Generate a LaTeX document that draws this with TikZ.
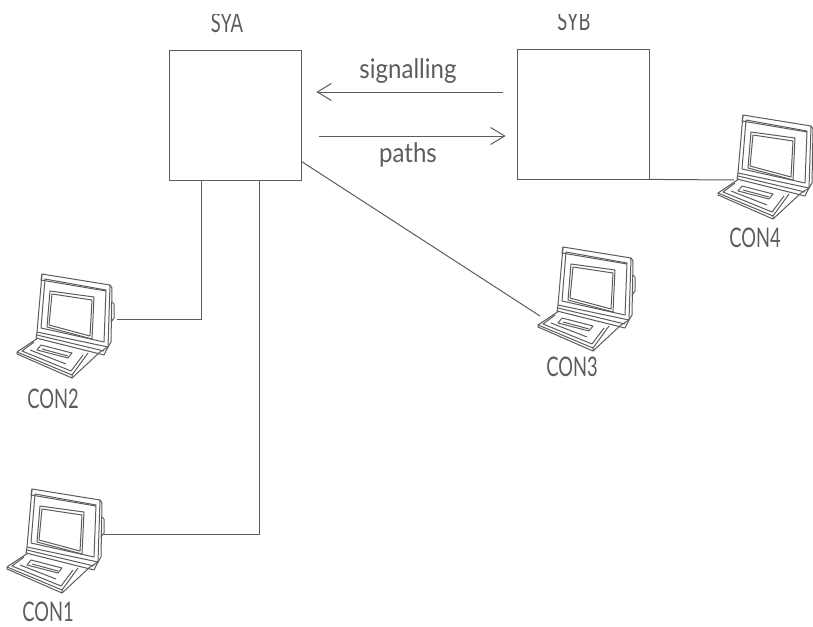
\documentclass[tikz,border=0pt]{standalone}
\usepackage{fontspec}
\setmainfont{Lato}
\usetikzlibrary{calc,arrows.meta}
\definecolor{ink}{gray}{0.36}
\tikzset{
  x=1pt,y=-1pt,
  sysbox/.style={draw=ink,line width=0.8pt,minimum width=132pt,minimum height=130pt,inner sep=0pt},
  wire/.style={draw=ink,line width=1pt},
  flow/.style={wire,-{Straight Barb[length=14pt,width=17pt,line width=1pt]}},
  lab/.style={text=ink,inner sep=0pt,font=\fontsize{27}{27}\selectfont,xscale=0.68,transform shape},
  small/.style={text=ink,inner sep=0pt,font=\fontsize{27}{27}\selectfont,xscale=0.89,transform shape},
  pics/computer/.style={code={
    \begin{scope}[ink,line width=1pt,line join=round]
    % monitor shell
    \draw (42,274) -- (110,285) -- (108,347) -- (37,332) -- cycle;
    \draw (45,279) -- (106,290) -- (104,342) -- (41,328) -- cycle;
    \draw (42,274) -- (41,280) -- (106,291);
    \draw (50,291) -- (94,297) -- (92,339) -- (47,327) -- cycle;
    \draw (52,294) -- (92,300) -- (90,336) -- (49,325) -- cycle;
    \draw (110,285) -- (112,288) -- (111,342) -- (108,347);
    \draw (112,302) -- (114,304) -- (114,318) -- (111,322);
    \draw (37,332) -- (36,338) -- (104,355) -- (108,347);
    \draw (37,335) -- (104,351);
    % keyboard
    \draw (38,338) -- (17,352) -- (72,375) -- (88,353);
    \draw (34,342) -- (22,351) -- (71,371) -- (83,355);
    \draw (41,345) -- (37,350) -- (68,358) -- (72,353) -- cycle;
    \draw (42,349) -- (68,356);
    \draw (30,350) -- (66,364);
    \draw (72,375) -- (72,378) -- (17,354) -- (17,352);
    \draw (72,378) -- (100,352) -- (108,347);
    \end{scope}
  }}
}
\begin{document}
\begin{tikzpicture}
\useasboundingbox (0,0) rectangle (813,626);
\node[sysbox] (sya) at (235,115) {};
\node[sysbox] (syb) at (583,114) {};
\begin{scope}
  \clip (0,15) rectangle (813,60);
  \node[lab] (syatext) at (227,23) {SYA};
  \node[lab] (sybtext) at (574,21) {SYB};
\end{scope}
\coordinate (sigstart) at ($(syb.west)+(-14,-22)$);
\coordinate (sigend) at ($(sya.east)+(15,-23)$);
\coordinate (pathstart) at ($(sya.east)+(18,21)$);
\coordinate (pathend) at ($(syb.west)+(-11,22)$);
\draw[flow] (sigstart) -- (sigend);
\draw[flow] (pathstart) -- (pathend);
\node[small] (siglabel) at (408,71) {signalling};
\node[small] (pathlabel) at (408,155) {paths};
% computers
\pic at (0,0) {computer};
\pic at (-10,215) {computer};
\pic at (521,-27) {computer};
\pic at (701,-159) {computer};
\coordinate (con2) at (117,319);
\coordinate (con1) at (104,534);
\coordinate (con3) at (540,316);
\coordinate (con4) at (734,180);
\coordinate (syaone) at ($(sya.south west)+(33,0)$);
\coordinate (syatwo) at ($(sya.south west)+(91,0)$);
\coordinate (syathree) at ($(sya.south east)+(0,-19)$);
\draw[wire] (syaone) |- (con2);
\draw[wire] (syatwo) |- (con1);
\draw[wire] (syathree) -- (con3);
\draw[wire] (syb.south east) -- (con4);
\node[lab] (con2text) at (53,399) {CON2};
\node[lab] (con1text) at (48,612) {CON1};
\node[lab] (con3text) at (572,367) {CON3};
\node[lab] (con4text) at (755,238) {CON4};
\end{tikzpicture}
\end{document}
